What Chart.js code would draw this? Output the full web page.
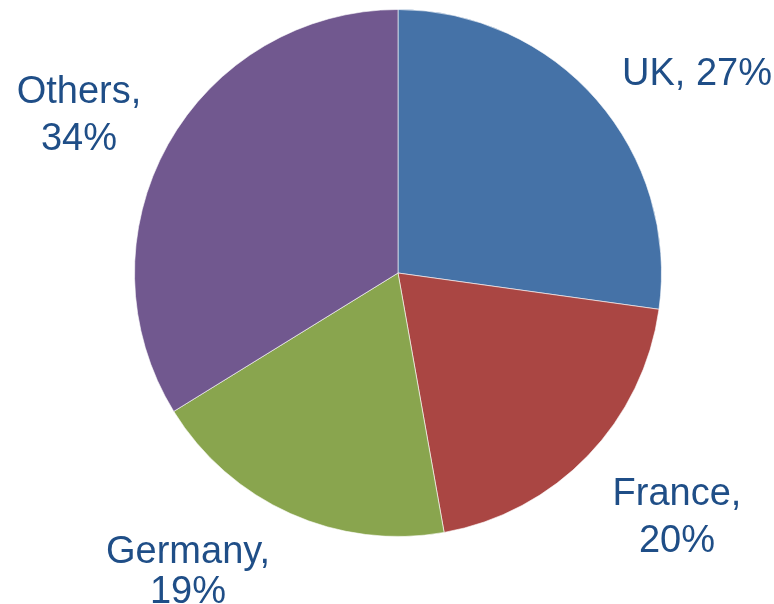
<!DOCTYPE html>
<html>
<head>
<meta charset="utf-8">
<script src="https://cdn.jsdelivr.net/npm/chart.js@4/dist/chart.umd.min.js"></script>
<style>
  html, body { margin: 0; padding: 0; background: #fff; }
  #wrap { width: 774px; height: 604px; }
</style>
</head>
<body>
<div id="wrap"><canvas id="pie" width="774" height="604"></canvas></div>
<script>
// data (shares in %, labels show rounded values)
const countries = ['UK', 'France', 'Germany', 'Others'];
const shares = [27.2, 20.0, 19.0, 33.8];
const sliceColors = ['#4572A7', '#AA4643', '#89A54E', '#71588F'];

// label anchor: center x, baseline of each line
const labelPos = [
    { x: 697, y: [85] },
    { x: 677, y: [505, 552] },
    { x: 188, y: [563, 603] },
    { x: 79, y: [103, 150] },
];

const labelPlugin = {
    id: 'sliceLabels',
    afterDraw(chart) {
        const ctx = chart.ctx;
        ctx.save();
        ctx.font = '38px "Liberation Sans", Arial, sans-serif';
        ctx.fillStyle = '#1F4E87';
        ctx.textAlign = 'center';
        ctx.textBaseline = 'alphabetic';
        countries.forEach((name, i) => {
            const pos = labelPos[i];
            const pct = Math.round(shares[i]) + '%';
            if (pos.y.length === 1) {
                ctx.fillText(name + ', ' + pct, pos.x, pos.y[0]);
            } else {
                ctx.fillText(name + ',', pos.x, pos.y[0]);
                ctx.fillText(pct, pos.x, pos.y[1]);
            }
        });
        ctx.restore();
    }
};

new Chart(document.getElementById('pie'), {
    type: 'pie',
    data: {
        labels: countries,
        datasets: [{
            data: shares,
            backgroundColor: sliceColors,
            borderColor: 'rgba(255,255,255,0.6)',
            borderWidth: 1,
        }]
    },
    options: {
        responsive: false,
        animation: false,
        layout: { padding: { left: 134, right: 112, top: 9, bottom: 67 } },
        plugins: {
            legend: { display: false },
            tooltip: { enabled: false }
        }
    },
    plugins: [labelPlugin]
});
</script>
</body>
</html>
